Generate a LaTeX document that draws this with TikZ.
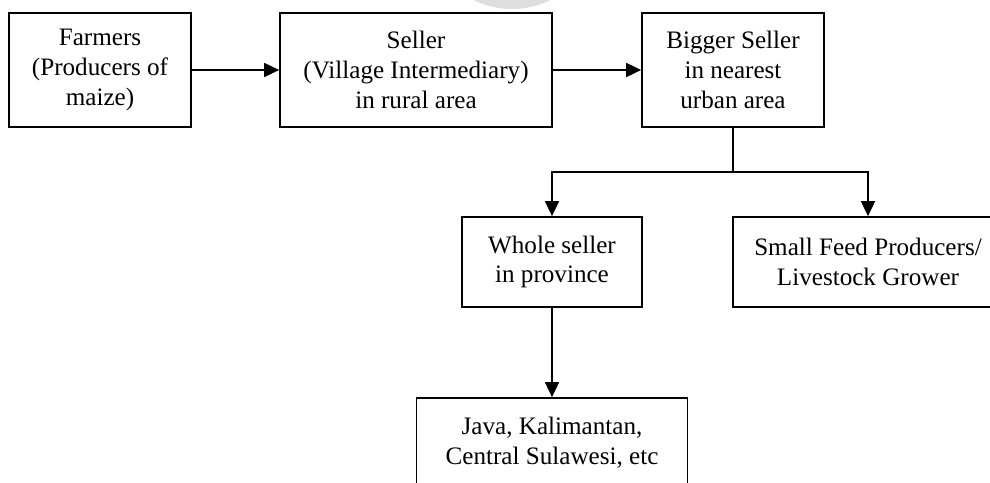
\documentclass[tikz,border=0pt]{standalone}
\usepackage{fontspec}
\setmainfont{Liberation Serif}
\usetikzlibrary{arrows.meta}

\tikzset{
  box/.style={draw, line width=1pt, align=center, inner sep=0pt,
    font=\fontsize{14.3}{17}\selectfont},
}

\begin{document}
\begin{tikzpicture}[x=0.02cm, y=-0.02cm, line width=1pt,
  >={Triangle[length=0.3cm,width=0.28cm]}]

\useasboundingbox (0,0) rectangle (990,483);
\clip (0,0) rectangle (990,483);

% faint mark at the top
\fill[black!13] (512,-78) circle[radius=1.74cm];

% top row
\node[box, minimum width=3.64cm, minimum height=2.28cm] (farmers) at (100,70)
  {Farmers\\(Producers of\\maize)};
\node[box, minimum width=5.44cm, minimum height=2.28cm] (seller) at (416,70)
  {Seller\\(Village Intermediary)\\in rural area};
\node[box, minimum width=3.64cm, minimum height=2.28cm] (bigger) at (733,70)
  {Bigger Seller\\in nearest\\urban area};

% second row
\node[box, minimum width=3.6cm, minimum height=1.8cm] (whole) at (552,262)
  {Whole seller\\in province};
\node[box, minimum width=5.4cm, minimum height=1.8cm] (small) at (868,262)
  {Small Feed Producers/\\Livestock Grower};

% last row
\node[box, minimum width=5.42cm, minimum height=1.8cm] (java) at (552,443)
  {Java, Kalimantan,\\Central Sulawesi, etc};

\draw[->] (farmers) -- (seller);
\draw[->] (seller) -- (bigger);

\coordinate (split) at (733,172);
\draw (bigger) -- (split);
\draw[->] (split) -| (whole.north);
\draw[->] (split) -| (small.north);

\draw[->] (whole) -- (java);

\end{tikzpicture}
\end{document}
